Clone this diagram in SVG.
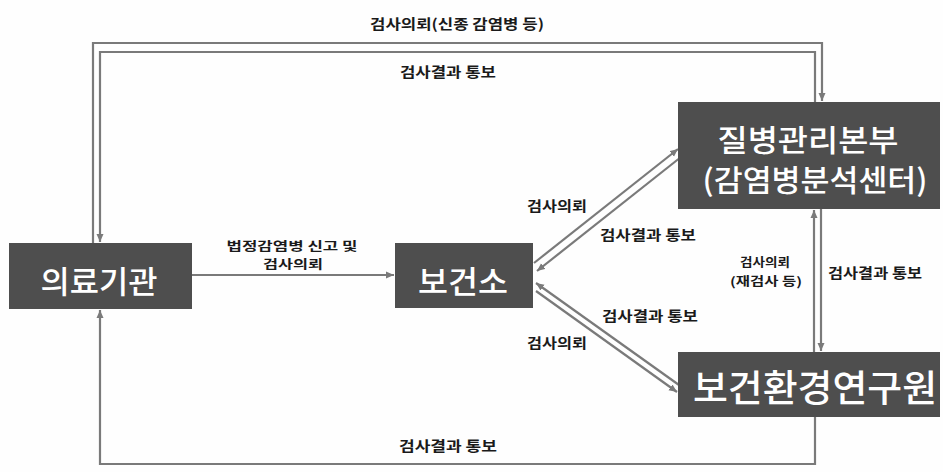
<svg xmlns="http://www.w3.org/2000/svg" width="943" height="472" viewBox="0 0 943 472">
<defs>
<marker id="ah" markerUnits="userSpaceOnUse" markerWidth="9" markerHeight="8" refX="8" refY="4" orient="auto">
<path d="M0,0.5 L8,4 L0,7.5 z" fill="#7a7a7a"/>
</marker>
<style>
.box{fill:#4e4e4e}
.nt{fill:#ffffff;font-family:"Noto Sans CJK KR","Noto Sans",sans-serif;font-weight:500;text-anchor:middle;dominant-baseline:central}
.lb{fill:#1a1a1a;font-family:"Noto Sans CJK KR","Noto Sans",sans-serif;font-size:14px;font-weight:bold;text-anchor:middle;dominant-baseline:central}
.l2{font-size:12.5px}
.l3{font-size:12px}
.ln{fill:none;stroke:#7a7a7a;stroke-width:2.2}
</style>
</defs>
<rect width="943" height="472" fill="#fefefe"/>

<g id="connectors">
<path class="ln" d="M93,243 V43 H822 V101" marker-end="url(#ah)"/>
<path class="ln" d="M815,102 V52 H100 V242" marker-end="url(#ah)"/>
<path class="ln" d="M192,275 H394" marker-end="url(#ah)"/>
<path class="ln" d="M534,263 L678,149" marker-end="url(#ah)"/>
<path class="ln" d="M681,157 L537,271" marker-end="url(#ah)"/>
<path class="ln" d="M679,385 L536,283" marker-end="url(#ah)"/>
<path class="ln" d="M536,291 L677,392" marker-end="url(#ah)"/>
<path class="ln" d="M814,352 V210" marker-end="url(#ah)"/>
<path class="ln" d="M821,209 V351" marker-end="url(#ah)"/>
<path class="ln" d="M815,417 V464 H100 V310" marker-end="url(#ah)"/>
</g>

<g id="labels">
<text class="lb" x="457" y="23" textLength="174" lengthAdjust="spacingAndGlyphs">검사의뢰(신종 감염병 등)</text>
<text class="lb" x="448" y="71" textLength="96" lengthAdjust="spacingAndGlyphs">검사결과 통보</text>
<text class="lb l2" x="292" y="245" textLength="131" lengthAdjust="spacingAndGlyphs">법정감염병 신고 및</text>
<text class="lb l2" x="293" y="263" textLength="60" lengthAdjust="spacingAndGlyphs">검사의뢰</text>
<text class="lb" x="557" y="205" textLength="60" lengthAdjust="spacingAndGlyphs">검사의뢰</text>
<text class="lb" x="648" y="234" textLength="96" lengthAdjust="spacingAndGlyphs">검사결과 통보</text>
<text class="lb" x="650" y="315" textLength="96" lengthAdjust="spacingAndGlyphs">검사결과 통보</text>
<text class="lb" x="557" y="342" textLength="60" lengthAdjust="spacingAndGlyphs">검사의뢰</text>
<text class="lb l3" x="765" y="261" textLength="50" lengthAdjust="spacingAndGlyphs">검사의뢰</text>
<text class="lb l3" x="766" y="280" textLength="72" lengthAdjust="spacingAndGlyphs">(재검사 등)</text>
<text class="lb" x="875" y="272" textLength="94" lengthAdjust="spacingAndGlyphs">검사결과 통보</text>
<text class="lb" x="448" y="445" textLength="98" lengthAdjust="spacingAndGlyphs">검사결과 통보</text>
</g>

<g id="node-medical">
<rect class="box" x="9" y="243" width="183" height="66"/>
<text class="nt" x="99" y="279" font-size="31" textLength="117" lengthAdjust="spacingAndGlyphs">의료기관</text>
</g>
<g id="node-healthcenter">
<rect class="box" x="395" y="243" width="138" height="65"/>
<text class="nt" x="463" y="279" font-size="31" textLength="90" lengthAdjust="spacingAndGlyphs">보건소</text>
</g>
<g id="node-kcdc">
<rect class="box" x="678" y="102" width="262" height="107"/>
<text class="nt" x="808" y="138" font-size="30" textLength="181" lengthAdjust="spacingAndGlyphs">질병관리본부</text>
<text class="nt" x="815" y="178" font-size="30" textLength="225" lengthAdjust="spacingAndGlyphs">(감염병분석센터)</text>
</g>
<g id="node-institute">
<rect class="box" x="678" y="352" width="262" height="65"/>
<text class="nt" x="815" y="386" font-size="37" textLength="244" lengthAdjust="spacingAndGlyphs">보건환경연구원</text>
</g>
</svg>
